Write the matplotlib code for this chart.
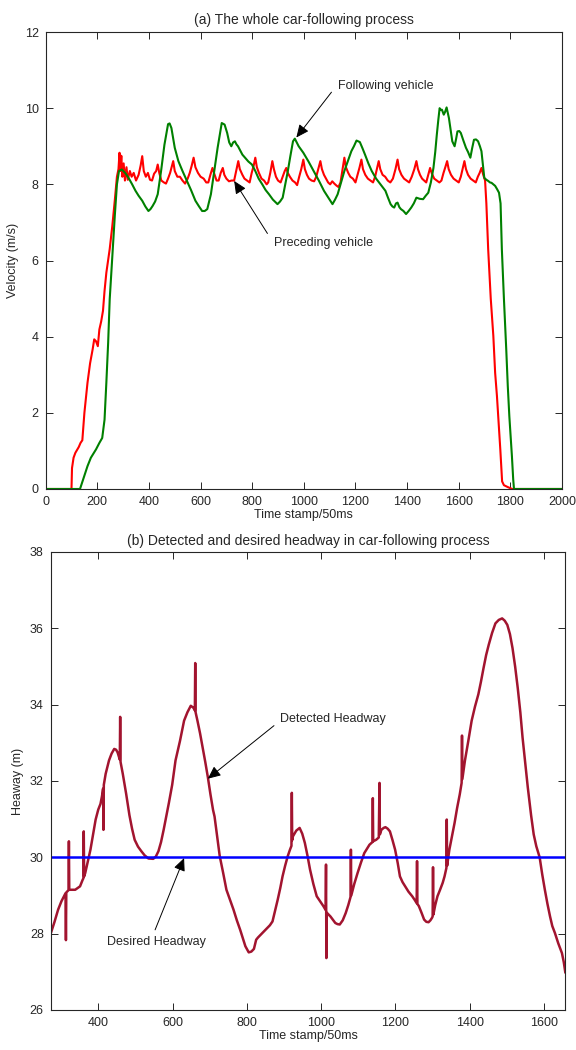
import matplotlib
matplotlib.use("Agg")
import matplotlib.pyplot as plt

plt.rcParams['font.family'] = ['Liberation Sans', 'DejaVu Sans']

# ---------------- (a) velocity data ----------------
prec_t = [0, 100, 102, 108, 115, 128, 135, 142, 150, 162, 172, 182, 188, 195, 202, 208, 215, 222, 228, 235,
          248, 258, 268, 276, 282, 286, 289, 293, 297, 302, 307, 313, 318, 326, 333, 341, 350, 360, 368, 374,
          380, 388, 396, 404, 412, 420, 428, 434, 440, 448, 458, 466, 474, 482, 488, 494, 500, 510, 520, 530,
          540, 550, 558, 566, 573, 580, 590, 600, 612, 622, 630, 638, 646, 652, 662, 670, 678, 686, 692, 700,
          710, 720, 730, 738, 746, 752, 762, 770, 780, 790, 798, 806, 812, 818, 826, 836, 846, 856, 862, 870,
          878, 884, 892, 900, 910, 918, 926, 932, 938, 946, 956, 966, 974, 982, 990, 998, 1004, 1012, 1020, 1030,
          1040, 1048, 1056, 1064, 1070, 1078, 1086, 1094, 1102, 1110, 1118, 1126, 1134, 1142, 1150, 1157, 1163,
          1172, 1180, 1190, 1200, 1208, 1216, 1223, 1229, 1238, 1248, 1258, 1268, 1276, 1283, 1290, 1296, 1305,
          1315, 1325, 1335, 1345, 1355, 1363, 1369, 1378, 1388, 1398, 1408, 1418, 1428, 1436, 1442, 1450, 1458,
          1466, 1474, 1482, 1489, 1495, 1505, 1515, 1525, 1533, 1541, 1548, 1555, 1561, 1570, 1580, 1590, 1600,
          1608, 1615, 1622, 1628, 1636, 1646, 1656, 1666, 1674, 1681, 1688, 1695, 1702, 1707, 1714, 1724, 1734,
          1741, 1748, 1755, 1761, 1768, 1775, 1790, 1807, 2000]
prec_v = [0, 0, 0.55, 0.82, 0.95, 1.1, 1.21, 1.28, 2.0, 2.79, 3.3, 3.67, 3.93, 3.88, 3.75, 4.19, 4.4, 4.68, 5.2, 5.68,
          6.3, 6.9, 7.6, 8.2, 8.4, 8.83, 8.35, 8.75, 8.2, 8.55, 8.1, 8.45, 8.12, 8.35, 8.2, 8.3, 8.1, 8.25, 8.5, 8.74,
          8.35, 8.2, 8.3, 8.12, 8.1, 8.28, 8.35, 8.52, 8.3, 8.1, 8.05, 8.02, 8.15, 8.3, 8.45, 8.61, 8.35, 8.2, 8.2, 8.1,
          8.02, 8.15, 8.3, 8.5, 8.70, 8.45, 8.3, 8.2, 8.15, 8.05, 8.05, 8.25, 8.43, 8.3, 8.1, 8.1, 8.3, 8.43, 8.25, 8.15,
          8.08, 8.1, 8.1, 8.35, 8.61, 8.4, 8.25, 8.15, 8.1, 8.05, 8.3, 8.5, 8.70, 8.45, 8.3, 8.15, 8.1, 8.0, 8.05, 8.3,
          8.61, 8.4, 8.2, 8.1, 8.05, 8.2, 8.35, 8.43, 8.3, 8.2, 8.1, 8.05, 7.98, 8.2, 8.4, 8.65, 8.4, 8.25, 8.15, 8.1,
          8.08, 8.2, 8.4, 8.61, 8.4, 8.25, 8.15, 8.05, 8.0, 8.08, 8.02, 7.97, 7.93, 8.05, 8.4, 8.70, 8.45,
          8.3, 8.2, 8.15, 8.05, 8.25, 8.45, 8.65, 8.4, 8.25, 8.15, 8.1, 8.05, 8.2, 8.4, 8.61, 8.4, 8.25,
          8.2, 8.1, 8.05, 8.15, 8.4, 8.65, 8.4, 8.25, 8.15, 8.1, 8.05, 8.2, 8.4, 8.61, 8.4, 8.25, 8.15,
          8.1, 8.05, 8.25, 8.43, 8.3, 8.15, 8.1, 8.05, 8.1, 8.3, 8.45, 8.61, 8.4, 8.25, 8.15, 8.1, 8.05,
          8.2, 8.4, 8.61, 8.4, 8.25, 8.15, 8.1, 8.05, 8.2, 8.3, 8.43, 8.25, 8.1, 7.5, 6.3, 5.0, 4.02,
          3.05, 2.44, 1.7, 1.04, 0.2, 0.1, 0.05, 0, 0]

foll_t = [0, 133, 149, 162, 175, 195, 208, 219, 228, 235, 242, 248, 260, 268, 276, 284, 295, 308, 321, 335,
          348, 360, 374, 386, 398, 406, 414, 424, 434, 447, 460, 474, 480, 487, 500, 514, 530, 547, 563, 580,
          594, 606, 616, 626, 640, 653, 666, 682, 693, 703, 711, 719, 726, 733, 739, 745, 752, 762, 772, 785,
          799, 812, 825, 839, 852, 865, 880, 898, 908, 918, 928, 938, 948, 958, 965, 980, 998, 1018, 1038, 1058,
          1078, 1095, 1111, 1121, 1131, 1144, 1157, 1170, 1184, 1194, 1204, 1217, 1227, 1237, 1250, 1263, 1280,
          1297, 1316, 1326, 1336, 1343, 1350, 1357, 1363, 1370, 1376, 1386, 1396, 1406, 1416, 1426, 1436, 1449,
          1462, 1472, 1482, 1492, 1502, 1509, 1515, 1521, 1526, 1531, 1535, 1542, 1547, 1553, 1557, 1562, 1568,
          1575, 1584, 1590, 1595, 1602, 1608, 1618, 1628, 1636, 1645, 1652, 1659, 1667, 1675, 1682, 1688, 1694,
          1699, 1707, 1714, 1721, 1727, 1734, 1741, 1748, 1756, 1762, 1767, 1775, 1784, 1790, 1796, 1806, 1811,
          1814, 2000]
foll_v = [0, 0, 0.33, 0.6, 0.82, 1.04, 1.21, 1.34, 1.82, 2.79, 3.84, 4.98, 6.3, 7.2, 8.0, 8.35, 8.39, 8.3, 8.17, 8.0,
          7.83, 7.7, 7.57, 7.42, 7.30, 7.35, 7.43, 7.55, 7.74, 8.35, 9.04, 9.58, 9.6, 9.48, 8.96, 8.61, 8.35, 8.09, 7.85, 7.57,
          7.42, 7.30, 7.3, 7.35, 7.74, 8.35, 8.96, 9.61, 9.57, 9.35, 9.1, 9.0, 9.1, 9.13, 9.05, 9.0, 8.91, 8.78, 8.70, 8.6,
          8.52, 8.35, 8.15, 8.0, 7.85, 7.74, 7.6, 7.48, 7.55, 7.65, 8.0, 8.35, 8.75, 9.13, 9.2, 9.0, 8.83, 8.6, 8.35, 8.1,
          7.83, 7.65, 7.48, 7.6, 7.74, 8.05, 8.35, 8.6, 8.87, 9.0, 9.15, 9.11, 8.95, 8.78, 8.55, 8.35, 8.15,
          8.0, 7.83, 7.65, 7.48, 7.42, 7.39, 7.5, 7.52, 7.4, 7.35, 7.3, 7.22, 7.3, 7.39, 7.5, 7.65, 7.62,
          7.61, 7.7, 7.78, 8.05, 8.43, 8.85, 9.30, 9.7, 10.0, 9.95, 9.96, 9.83, 9.9, 10.02, 9.9, 9.74, 9.45,
          9.13, 9.0, 9.2, 9.39, 9.4, 9.35, 9.15, 8.96, 8.85, 8.70, 8.95, 9.17, 9.18, 9.13, 9.0, 8.87, 8.5,
          8.17, 8.12, 8.09, 8.05, 8.04, 8.0, 7.96, 7.88, 7.78, 7.5, 6.3, 5.0, 3.67, 2.7, 1.91, 0.86, 0.25,
          0, 0]

# ---------------- (b) headway data ----------------
head_t = [272, 282, 292, 301, 310, 312, 313, 314, 318, 320, 321, 322, 330, 338, 345, 351, 358, 360, 361, 362,
          365, 372, 379, 386, 393, 400, 406, 410, 413, 414, 415, 420, 429, 436, 443, 448, 452, 456, 458, 459,
          460, 466, 475, 484, 491, 498, 507, 516, 525, 535, 548, 555, 562, 569, 576, 583, 590, 599, 608, 620,
          631, 640, 649, 656, 660, 661, 662, 667, 674, 681, 688, 695, 702, 709, 713, 720, 727, 736, 745, 755,
          764, 773, 782, 790, 796, 805, 812, 819, 825, 830, 837, 846, 855, 862, 869, 876, 883, 890, 896, 903,
          910, 916, 920, 921, 922, 924, 933, 942, 949, 956, 963, 970, 979, 988, 997, 1006, 1012, 1013, 1014, 1015,
          1020, 1025, 1032, 1038, 1044, 1050, 1058, 1066, 1073, 1079, 1080, 1081, 1089, 1098, 1107, 1116, 1123,
          1130, 1136, 1138, 1139, 1140, 1148, 1155, 1157, 1158, 1162, 1168, 1173, 1179, 1185, 1192, 1199, 1206,
          1212, 1219, 1226, 1235, 1245, 1252, 1257, 1258, 1259, 1263, 1270, 1277, 1283, 1289, 1294, 1298, 1300,
          1301, 1302, 1307, 1313, 1320, 1327, 1332, 1337, 1338, 1339, 1345, 1352, 1359, 1366, 1373, 1378, 1379,
          1380, 1387, 1396, 1405, 1414, 1423, 1430, 1437, 1444, 1451, 1460, 1469, 1478, 1487, 1494, 1501, 1508,
          1515, 1522, 1529, 1536, 1542, 1549, 1556, 1565, 1572, 1579, 1588, 1595, 1602, 1609, 1616, 1622, 1629,
          1638, 1648, 1653, 1657]
head_h = [28.0, 28.3, 28.63, 28.85, 29.02, 29.06, 27.83, 29.08, 29.12, 29.14, 30.42, 29.15, 29.15, 29.15, 29.2, 29.24, 29.41, 29.45, 30.68, 29.5,
          29.59, 29.9, 30.2, 30.6, 30.99, 31.25, 31.4, 31.6, 31.8, 30.72, 31.9, 32.19, 32.54, 32.72, 32.84, 32.82, 32.75, 32.62, 32.56, 33.68,
          32.5, 32.19, 31.67, 31.1, 30.75, 30.46, 30.28, 30.16, 30.05, 29.97, 29.96, 30.02, 30.16, 30.4, 30.72, 31.07, 31.42, 31.9, 32.54, 33.05,
          33.58, 33.8, 33.97, 33.92, 33.85, 35.09, 33.8, 33.58, 33.25, 32.88, 32.5, 32.1, 31.65, 31.24, 31.07, 30.55, 30.03, 29.6, 29.15, 28.88,
          28.63, 28.35, 28.1, 27.85, 27.67, 27.51, 27.53, 27.6, 27.84, 27.9, 27.97, 28.06, 28.15, 28.22, 28.32, 28.6, 28.89, 29.2, 29.5, 29.78,
          30.03, 30.2, 30.3, 31.69, 30.45, 30.55, 30.7, 30.77, 30.62, 30.38, 30.05, 29.68, 29.3, 28.98, 28.85, 28.72, 28.62, 29.81, 27.36, 28.55,
          28.5, 28.45, 28.36, 28.28, 28.25, 28.24, 28.35, 28.54, 28.75, 28.96, 30.2, 29.0, 29.3, 29.59, 29.86, 30.11, 30.22,
          30.33, 30.38, 30.4, 31.55, 30.42, 30.46, 30.52, 31.95, 30.6, 30.72, 30.77, 30.79, 30.75, 30.68, 30.45, 30.2, 29.85,
          29.5, 29.35, 29.24, 29.1, 28.98, 28.88, 28.8, 29.9, 28.78, 28.72, 28.55, 28.37, 28.31, 28.3, 28.35, 28.41, 28.45,
          29.74, 28.5, 28.75, 28.98, 29.15, 29.33, 29.5, 29.72, 30.99, 29.78, 30.2, 30.55, 30.9, 31.3, 31.65, 31.95, 33.19,
          32.05, 32.54, 33.05, 33.58, 33.95, 34.27, 34.6, 34.96, 35.3, 35.57, 35.88, 36.13, 36.22, 36.26, 36.2, 36.09, 35.85,
          35.48, 35.0, 34.44, 33.8, 33.14, 32.5, 31.84, 31.1, 30.6, 30.29, 30.0, 29.55, 29.15, 28.78, 28.45, 28.2, 28.02,
          27.75, 27.49, 27.25, 26.99]
desired_headway = 30

# tick values / labels
a_xticks = [0, 200, 400, 600, 800, 1000, 1200, 1400, 1600, 1800, 2000]
a_yticks = [0, 2, 4, 6, 8, 10, 12]
b_xticks = [400, 600, 800, 1000, 1200, 1400, 1600]
b_yticks = [26, 28, 30, 32, 34, 36, 38]

TXT = '#262626'

fig = plt.figure(figsize=(5.76, 10.5), dpi=100)


def style(ax):
    for s in ax.spines.values():
        s.set_color(TXT)
        s.set_linewidth(0.8)
    ax.tick_params(direction='in', length=5, width=0.7, colors=TXT, labelsize=9,
                   top=True, right=True, pad=5)


# ---------------- (a) ----------------
ax1 = fig.add_axes([0.0793, 0.5343, 0.8964, 0.4352])
ax1.plot(prec_t, prec_v, color='#ff0000', lw=1.5)
ax1.plot(foll_t, foll_v, color='#008000', lw=1.5)
ax1.set_xlim(0, 2000)
ax1.set_ylim(0, 12)
ax1.set_xticks(a_xticks)
ax1.set_yticks(a_yticks)
style(ax1)
ax1.set_title('(a) The whole car-following process', fontsize=10, color=TXT, pad=6)
ax1.set_xlabel('Time stamp/50ms', fontsize=9, color=TXT, labelpad=1)
ax1.set_ylabel('Velocity (m/s)', fontsize=9, color=TXT, labelpad=4)

arrow = dict(arrowstyle='-|>,head_length=0.55,head_width=0.25', color='black', lw=0.7,
             mutation_scale=14, shrinkA=0, shrinkB=0)
ax1.annotate('', xy=(971, 9.23), xytext=(1107, 10.42), arrowprops=arrow)
ax1.text(1316, 10.59, 'Following vehicle', fontsize=9, color=TXT, ha='center', va='center')
ax1.annotate('', xy=(730, 8.09), xytext=(859, 6.71), arrowprops=arrow)
ax1.text(1078, 6.45, 'Preceding vehicle', fontsize=9, color=TXT, ha='center', va='center')

# ---------------- (b) ----------------
ax2 = fig.add_axes([0.088, 0.0381, 0.8934, 0.4362])
ax2.plot(head_t, head_h, color='#A2142F', lw=1.8)
ax2.axhline(desired_headway, color='#0000ff', lw=1.8)
ax2.set_xlim(272, 1657)
ax2.set_ylim(26, 38)
ax2.set_xticks(b_xticks)
ax2.set_yticks(b_yticks)
style(ax2)
ax2.set_title('(b) Detected and desired headway in car-following process', fontsize=10, color=TXT, pad=5)
ax2.set_xlabel('Time stamp/50ms', fontsize=9, color=TXT, labelpad=1)
ax2.set_ylabel('Heaway (m)', fontsize=9, color=TXT, labelpad=4)

ax2.annotate('', xy=(695, 32.06), xytext=(873, 33.45), arrowprops=arrow)
ax2.text(1031, 33.62, 'Detected Headway', fontsize=9, color=TXT, ha='center', va='center')
ax2.annotate('', xy=(631, 29.98), xytext=(553, 28.1), arrowprops=arrow)
ax2.text(557, 27.78, 'Desired Headway', fontsize=9, color=TXT, ha='center', va='center')

fig.savefig('out.png', dpi=100)
